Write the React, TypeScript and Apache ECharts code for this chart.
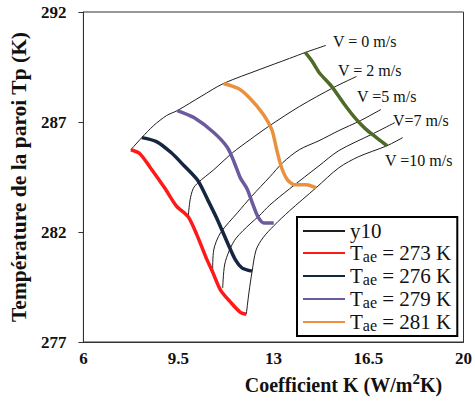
import React, { useEffect, useRef } from "react";
import * as echarts from "echarts";

// ---- data (K in W/m²K, Tp in K) ----
const xTicks = [6, 9.5, 13, 16.5, 20];
const yTicks = [277, 282, 287, 292];

const tae273: [number, number][] = [
  [7.75, 285.74], [8.08, 285.56], [8.44, 284.97], [8.99, 284.01], [9.42, 283.19],
  [9.86, 282.69], [10.18, 281.87], [10.51, 280.86], [10.76, 280.18], [11.05, 279.36],
  [11.42, 278.81], [11.78, 278.35], [12.0, 278.26],
];
const tae276: [number, number][] = [
  [8.15, 286.29], [8.69, 286.11], [9.24, 285.6], [9.71, 285.01], [10.22, 284.33],
  [10.58, 283.46], [10.94, 282.55], [11.31, 281.5], [11.6, 280.73], [11.85, 280.36],
  [12.21, 280.22],
];
const tae279: [number, number][] = [
  [9.46, 287.52], [10.07, 287.2], [10.8, 286.52], [11.31, 285.83], [11.56, 285.15],
  [11.78, 284.46], [12.03, 283.96], [12.25, 283.23], [12.43, 282.69], [12.65, 282.41],
  [13.01, 282.41],
];
const tae281: [number, number][] = [
  [11.16, 288.75], [11.71, 288.52], [12.14, 288.07], [12.61, 287.38], [12.94, 286.65],
  [13.12, 285.74], [13.3, 284.92], [13.52, 284.37], [13.77, 284.15], [14.21, 284.15],
  [14.57, 284.01],
];
const taeGreen: [number, number][] = [
  [14.17, 290.16], [14.43, 289.75], [14.68, 289.25], [15.15, 288.61], [15.59, 287.84],
  [16.02, 287.16], [16.38, 286.7], [16.75, 286.33], [17.18, 285.92],
];

const v0: [number, number][] = [
  [7.75, 285.74], [8.15, 286.29], [8.59, 286.84], [9.06, 287.29], [9.46, 287.52],
  [10.33, 288.16], [11.16, 288.75], [12.5, 289.39], [13.59, 289.89], [14.17, 290.16],
  [14.93, 290.48],
];
const v2: [number, number][] = [
  [9.86, 282.69], [9.93, 283.46], [10.04, 283.96], [10.22, 284.24], [10.8, 284.83],
  [11.49, 285.6], [12.14, 286.2], [12.87, 286.84], [13.95, 287.7], [15.22, 288.57],
  [16.06, 289.07],
];
const v5: [number, number][] = [
  [10.76, 280.25], [10.8, 281.18], [11.05, 281.96], [11.67, 282.87], [12.21, 283.64],
  [12.87, 284.51], [13.34, 285.15], [13.95, 285.74], [14.68, 286.15], [15.41, 286.61],
  [16.2, 287.06], [16.96, 287.57],
];
const v7: [number, number][] = [
  [11.13, 279.45], [11.2, 280.5], [11.38, 281.18], [11.63, 281.73], [12.14, 282.37],
  [12.47, 282.73], [12.87, 283.23], [13.59, 283.96], [14.68, 285.01], [15.41, 285.7],
  [16.67, 286.47], [17.47, 286.97],
];
const v10: [number, number][] = [
  [12.0, 278.26], [12.1, 279.27], [12.21, 280.18], [12.36, 281.18], [12.61, 281.73],
  [13.01, 282.28], [13.59, 282.96], [14.57, 284.01], [15.41, 284.92], [16.13, 285.42],
  [17.18, 285.92], [17.76, 286.29],
];

const speedLines = [v0, v2, v5, v7, v10];
const speedLabels = ["V = 0 m/s", "V = 2 m/s", "V =5 m/s", "V=7 m/s", "V =10 m/s"];
const taeNames = ["Tae = 273 K", "Tae = 276 K", "Tae = 279 K", "Tae = 281 K"];
const taeData = [tae273, tae276, tae279, tae281];

// ---- layout / style ----
const serif = "Liberation Serif";
const taeColors = ["#ff1a1a", "#142640", "#6c5a9e", "#e9913f"];
const greenColor = "#4d6b26";
const labelPos: [number, number][] = [
  [333, 33], [338, 62], [357, 88], [393, 112], [385, 152],
];

export default function App() {
  const ref = useRef<HTMLDivElement>(null);
  useEffect(() => {
    if (!ref.current) return;
    const chart = echarts.init(ref.current, undefined, { renderer: "svg" });
    const series: any[] = [];
    speedLines.forEach((d) =>
      series.push({
        type: "line",
        name: "y10",
        data: d,
        symbol: "none",
        smooth: 0.3,
        lineStyle: { color: "#1e1e1e", width: 1 },
        itemStyle: { color: "#1e1e1e" },
        z: 2,
      })
    );
    taeData.forEach((d, i) =>
      series.push({
        type: "line",
        name: taeNames[i],
        data: d,
        symbol: "none",
        smooth: 0.25,
        lineStyle: { color: taeColors[i], width: 3.5 },
        itemStyle: { color: taeColors[i] },
        z: 3,
      })
    );
    series.push({
      type: "line",
      name: "unlabeled",
      data: taeGreen,
      symbol: "none",
      smooth: 0.25,
      lineStyle: { color: greenColor, width: 3.5 },
      itemStyle: { color: greenColor },
      z: 3,
    });

    chart.setOption({
      animation: false,
      backgroundColor: "#fff",
      textStyle: { fontFamily: serif },
      grid: {
        left: 80,
        right: 9,
        top: 12,
        bottom: 61,
        show: true,
        borderColor: "#333",
        borderWidth: 1,
      },
      xAxis: {
        type: "value",
        min: xTicks[0],
        max: xTicks[xTicks.length - 1],
        interval: xTicks[1] - xTicks[0],
        splitLine: { show: false },
        axisLine: { show: true, lineStyle: { color: "#333" } },
        axisTick: { show: false },
        axisLabel: {
          margin: 8,
          color: "#111",
          fontFamily: serif,
          fontWeight: "bold",
          fontSize: 17,
          formatter: (v: number) => String(v),
        },
        name: "{a|Coefficient K (W/m}{b|2}{a|K)}",
        nameLocation: "middle",
        nameGap: 26,
        nameTextStyle: {
          padding: [0, 0, 0, 140],
          rich: {
            a: { fontFamily: serif, fontWeight: "bold", fontSize: 20, color: "#111", lineHeight: 23, verticalAlign: "bottom" },
            b: { fontFamily: serif, fontWeight: "bold", fontSize: 15, color: "#111", lineHeight: 15, verticalAlign: "top" },
          },
        },
      },
      yAxis: {
        type: "value",
        min: yTicks[0],
        max: yTicks[yTicks.length - 1],
        interval: yTicks[1] - yTicks[0],
        splitLine: { show: false },
        axisLine: { show: true, lineStyle: { color: "#333" } },
        axisTick: { show: true, length: 5, lineStyle: { color: "#333" } },
        axisLabel: {
          margin: 17,
          color: "#111",
          fontFamily: serif,
          fontWeight: "bold",
          fontSize: 17,
        },
        name: "Température de la paroi Tp (K)",
        nameLocation: "middle",
        nameGap: 48,
        nameTextStyle: {
          fontFamily: serif,
          fontWeight: "bold",
          fontSize: 21.5,
          color: "#111",
        },
      },
      legend: {
        data: ["y10", ...taeNames],
        orient: "vertical",
        left: 297,
        top: 217,
        itemWidth: 42,
        itemHeight: 2,
        itemGap: 1,
        padding: [3, 6, 3, 5],
        borderColor: "#000",
        borderWidth: 2,
        backgroundColor: "#fff",
        itemStyle: { opacity: 0 },
        formatter: (name: string) =>
          name.startsWith("Tae")
            ? `{t|T}{s|ae}{t|${name.slice(3)}}`
            : `{t|${name}}`,
        textStyle: {
          fontFamily: serif,
          color: "#111",
          fontSize: 21,
          rich: {
            t: { fontFamily: serif, fontSize: 21, color: "#111", lineHeight: 22, verticalAlign: "top" },
            s: { fontFamily: serif, fontSize: 16, color: "#111", lineHeight: 15, verticalAlign: "bottom" },
          },
        },
      },
      graphic: speedLabels.map((t, i) => ({
        type: "text",
        left: labelPos[i][0],
        top: labelPos[i][1],
        z: 10,
        style: {
          text: t,
          fontFamily: serif,
          fontSize: 16,
          fill: "#111",
        },
      })),
      series,
    });
    return () => chart.dispose();
  }, []);
  return (
    <div
      ref={ref}
      style={{ position: "fixed", left: 0, top: 0, width: 475, height: 403, background: "#fff" }}
    />
  );
}
